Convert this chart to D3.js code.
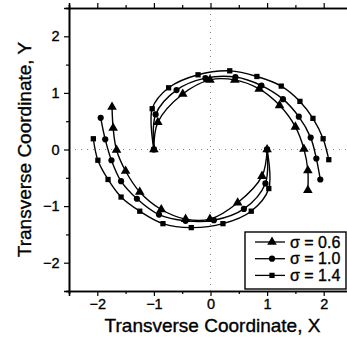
<!DOCTYPE html>
<html lang="en">
<head>
    <meta charset="UTF-8">
    <title>Beam trajectories</title>
    <style>
        body { margin: 0; background: #fff; }
        svg { display: block; font-family: "Liberation Sans", Arial, sans-serif; }
        svg text { stroke: #000; stroke-width: 0.35px; }
        .curve { fill: none; stroke: #000; stroke-width: 1.4; }
    </style>
</head>
<body>
    <svg id="chart" width="347" height="347"></svg>

    <script src="https://d3js.org/d3.v7.min.js"></script>
    <script>
        // series labels
        const labels = ["\u03c3 = 0.6", "\u03c3 = 1.0", "\u03c3 = 1.4"];

        // arm starting at (-1, 0)
        const upper06 = [[-1.0, 0], [-0.93, 0.48], [-0.49, 0.98], [-0.01, 1.23], [0.43, 1.23], [0.86, 1.07],
                         [1.22, 0.78], [1.5, 0.4], [1.65, 0.01], [1.72, -0.37], [1.72, -0.72]];
        const upper10 = [[-1.0, 0], [-0.97, 0.62], [-0.6, 1.05], [-0.09, 1.26], [0.44, 1.28], [0.9, 1.13],
                         [1.28, 0.89], [1.56, 0.58], [1.77, 0.21], [1.87, -0.16], [1.94, -0.53]];
        const upper14 = [[-1.0, 0], [-1.03, 0.72], [-0.74, 1.09], [-0.22, 1.32], [0.34, 1.39], [0.82, 1.29],
                         [1.25, 1.12], [1.58, 0.85], [1.81, 0.55], [1.99, 0.19], [2.09, -0.18]];

        // arm starting at (1, 0)
        const lower06 = [[1.0, 0], [0.91, -0.47], [0.48, -0.94], [-0.01, -1.23], [-0.44, -1.23], [-0.87, -1.06],
                         [-1.25, -0.75], [-1.5, -0.38], [-1.66, -0.01], [-1.72, 0.38], [-1.74, 0.75]];
        const lower10 = [[1.0, 0], [0.97, -0.6], [0.59, -1.05], [0.06, -1.25], [-0.44, -1.26], [-0.91, -1.15],
                         [-1.3, -0.87], [-1.58, -0.56], [-1.75, -0.19], [-1.86, 0.18], [-1.94, 0.56]];
        const lower14 = [[1.0, 0], [1.03, -0.69], [0.72, -1.09], [0.22, -1.31], [-0.34, -1.38], [-0.84, -1.31],
                         [-1.25, -1.09], [-1.58, -0.84], [-1.81, -0.53], [-1.99, -0.19], [-2.07, 0.19]];

        const xTicks = [-2, -1, 0, 1, 2];
        const yTicks = [-2, -1, 0, 1, 2];
        const minorTicks = [-2.5, -1.5, -0.5, 0.5, 1.5, 2.5];

        const series = [
            { label: labels[0], arms: [upper06, lower06], symbol: d3.symbolTriangle, size: 40 },
            { label: labels[1], arms: [upper10, lower10], symbol: d3.symbolCircle, size: 30 },
            { label: labels[2], arms: [upper14, lower14], symbol: d3.symbolSquare, size: 28 }
        ];

        const svg = d3.select("#chart");

        // plot box; the right side runs past the window edge like the reference
        const x = d3.scaleLinear().domain([-2.5, 2.5]).range([69, 352]);
        const y = d3.scaleLinear().domain([-2.5, 2.5]).range([291, 8]);

        // dotted zero lines
        svg.append("line")
            .attr("x1", x(0)).attr("x2", x(0)).attr("y1", y(2.5)).attr("y2", y(-2.5))
            .attr("stroke", "#888").attr("stroke-width", 1).attr("stroke-dasharray", "1,5");
        svg.append("line")
            .attr("x1", x(-2.5)).attr("x2", x(2.5)).attr("y1", y(0)).attr("y2", y(0))
            .attr("stroke", "#888").attr("stroke-width", 1).attr("stroke-dasharray", "1,5");

        // axes
        const xAxisBottom = svg.append("g").attr("transform", `translate(0,${y(-2.5)})`);
        xAxisBottom.call(d3.axisBottom(x).tickValues(xTicks).tickSize(5).tickFormat(d3.format("d")));
        xAxisBottom.append("g").call(d3.axisBottom(x).tickValues(minorTicks).tickSize(3).tickFormat(""));

        const xAxisTop = svg.append("g").attr("transform", `translate(0,${y(2.5)})`);
        xAxisTop.call(d3.axisTop(x).tickValues(xTicks).tickSize(5).tickFormat(""));
        xAxisTop.append("g").call(d3.axisTop(x).tickValues(minorTicks).tickSize(3).tickFormat(""));

        const yAxisLeft = svg.append("g").attr("transform", `translate(${x(-2.5)},0)`);
        yAxisLeft.call(d3.axisLeft(y).tickValues(yTicks).tickSize(5).tickFormat(d3.format("d")));
        yAxisLeft.append("g").call(d3.axisLeft(y).tickValues(minorTicks).tickSize(3).tickFormat(""));

        svg.selectAll(".domain").attr("stroke-width", 1.6);
        svg.selectAll(".tick line").attr("stroke-width", 1.2);
        svg.selectAll(".tick text")
            .attr("font-size", 14.5)
            .attr("font-family", "Liberation Sans, Arial, sans-serif")
            .attr("fill", "#000");
        xAxisBottom.selectAll(".tick text").attr("y", 8).attr("dy", "0.71em");
        yAxisLeft.selectAll(".tick text").attr("dx", "-0.1em");

        // curves and markers
        const line = d3.line()
            .x(d => x(d[0]))
            .y(d => y(d[1]))
            .curve(d3.curveCatmullRom.alpha(0.5));

        series.forEach(s => {
            s.arms.forEach(arm => {
                svg.append("path").attr("class", "curve").attr("d", line(arm));
                svg.selectAll(null)
                    .data(arm)
                    .enter().append("path")
                    .attr("d", d3.symbol().type(s.symbol).size(s.size))
                    .attr("transform", d => `translate(${x(d[0])},${y(d[1])})`)
                    .attr("fill", "#000");
            });
        });

        // legend
        const legend = svg.append("g").attr("transform", "translate(245,232)");
        legend.append("rect")
            .attr("width", 101).attr("height", 57)
            .attr("fill", "#fff").attr("stroke", "#000").attr("stroke-width", 1.4);
        series.forEach((s, i) => {
            const row = legend.append("g").attr("transform", `translate(0,${10 + i * 16.7})`);
            row.append("line").attr("x1", 10).attr("x2", 40).attr("y1", 0).attr("y2", 0)
                .attr("stroke", "#000").attr("stroke-width", 1.3);
            row.append("path")
                .attr("d", d3.symbol().type(s.symbol).size(s.size))
                .attr("transform", "translate(27,0)");
            row.append("text")
                .attr("x", 45).attr("y", 0).attr("dy", "0.35em")
                .attr("font-size", 16)
                .text(s.label);
        });

        // axis titles
        svg.append("text")
            .attr("x", x(0) + 2).attr("y", 332)
            .attr("text-anchor", "middle")
            .attr("font-size", 19)
            .text("Transverse Coordinate, X");
        svg.append("text")
            .attr("transform", `translate(31,${y(0)}) rotate(-90)`)
            .attr("text-anchor", "middle")
            .attr("font-size", 19)
            .text("Transverse Coordinate, Y");
    </script>
</body>
</html>
